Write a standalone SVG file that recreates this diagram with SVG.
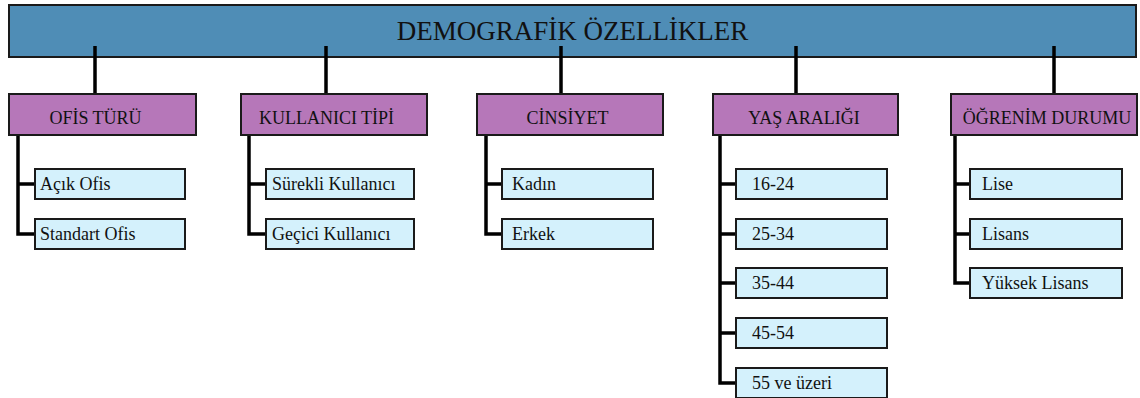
<svg xmlns="http://www.w3.org/2000/svg" width="1140" height="398" viewBox="0 0 1140 398">
<style>
.top{fill:#4f8db6;stroke:#1a1a1a;stroke-width:2}
.cat{fill:#b677b9;stroke:#1a1a1a;stroke-width:2}
.item{fill:#d4f1fc;stroke:#1a1a1a;stroke-width:2}
.con{fill:none;stroke:#000;stroke-width:3.5;stroke-linejoin:miter;stroke-linecap:butt}
text{fill:#111}
.t{font-size:27px;text-anchor:middle}
.c{font-size:18px;text-anchor:middle}
.i{font-size:18px}
</style>
<rect width="1140" height="398" fill="#fff"/>
<g font-family="Liberation Serif, DejaVu Serif, serif">
<g id="root">
<rect class="top" x="9" y="5" width="1127" height="52"/>
<text class="t" x="572.5" y="39.5">DEMOGRAFİK ÖZELLİKLER</text>
</g>
<g id="connectors">
<path class="con" d="M95 46V101M326 46V101M561 46V101M796 46V101M1054 46V101"/>
<path class="con" d="M18 126V234H35M18 184H35"/>
<path class="con" d="M249 126V234H266M249 184H266"/>
<path class="con" d="M486 126V234H502M486 184H502"/>
<path class="con" d="M720 126V383H736M720 184H736M720 234H736M720 283H736M720 333H736"/>
<path class="con" d="M955 126V283H970M955 184H970M955 234H970"/>
</g>
<g id="ofis">
<rect class="cat" x="9" y="94" width="187" height="41"/>
<text class="c" x="95.5" y="123.5">OFİS TÜRÜ</text>
</g>
<g id="acik-ofis"><rect class="item" x="35" y="169" width="150" height="30"/><text class="i" x="40" y="190">Açık Ofis</text></g>
<g id="standart-ofis"><rect class="item" x="35" y="219" width="150" height="30"/><text class="i" x="40" y="240">Standart Ofis</text></g>
<g id="kullanici">
<rect class="cat" x="241" y="94" width="186" height="41"/>
<text class="c" x="326.5" y="123.5">KULLANICI TİPİ</text>
</g>
<g id="surekli"><rect class="item" x="266" y="169" width="148" height="30"/><text class="i" x="272" y="190">Sürekli Kullanıcı</text></g>
<g id="gecici"><rect class="item" x="266" y="219" width="148" height="30"/><text class="i" x="272" y="240">Geçici Kullanıcı</text></g>
<g id="cinsiyet">
<rect class="cat" x="477" y="94" width="186" height="41"/>
<text class="c" x="567.5" y="123.5">CİNSİYET</text>
</g>
<g id="kadin"><rect class="item" x="502" y="169" width="151" height="30"/><text class="i" x="512" y="190">Kadın</text></g>
<g id="erkek"><rect class="item" x="502" y="219" width="151" height="30"/><text class="i" x="512" y="240">Erkek</text></g>
<g id="yas">
<rect class="cat" x="713" y="94" width="185" height="41"/>
<text class="c" x="804" y="123.5">YAŞ ARALIĞI</text>
</g>
<g id="y16"><rect class="item" x="736" y="169" width="151" height="30"/><text class="i" x="752" y="190">16-24</text></g>
<g id="y25"><rect class="item" x="736" y="219" width="151" height="30"/><text class="i" x="752" y="240">25-34</text></g>
<g id="y35"><rect class="item" x="736" y="268" width="151" height="30"/><text class="i" x="752" y="289">35-44</text></g>
<g id="y45"><rect class="item" x="736" y="318" width="151" height="30"/><text class="i" x="752" y="339">45-54</text></g>
<g id="y55"><rect class="item" x="736" y="368" width="151" height="30"/><text class="i" x="752" y="389">55 ve üzeri</text></g>
<g id="ogrenim">
<rect class="cat" x="951" y="94" width="186" height="41"/>
<text class="c" x="1047" y="123.5">ÖĞRENİM DURUMU</text>
</g>
<g id="lise"><rect class="item" x="970" y="169" width="152" height="30"/><text class="i" x="982" y="190">Lise</text></g>
<g id="lisans"><rect class="item" x="970" y="219" width="152" height="30"/><text class="i" x="982" y="240">Lisans</text></g>
<g id="yuksek"><rect class="item" x="970" y="268" width="152" height="30"/><text class="i" x="982" y="289">Yüksek Lisans</text></g>
</g>
</svg>
